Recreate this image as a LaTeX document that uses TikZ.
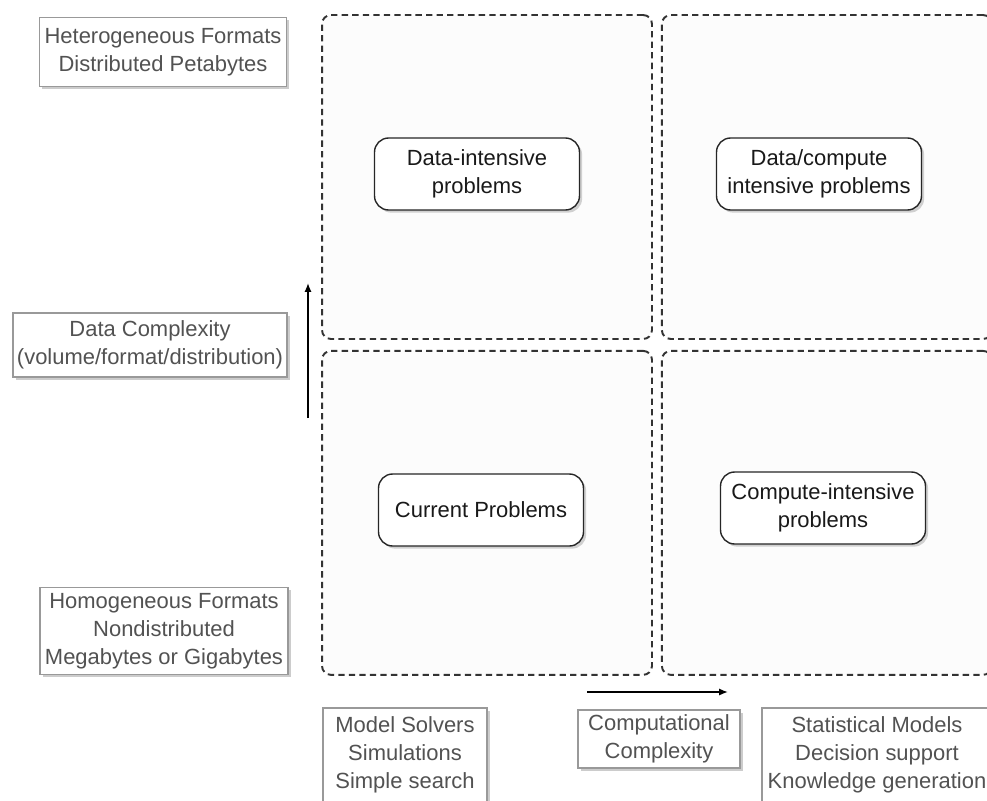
\documentclass[tikz,border=0pt]{standalone}
\usepackage{fontspec}
\setmainfont{Liberation Sans}
\usetikzlibrary{positioning}
\usetikzlibrary{shadows}
\usetikzlibrary{arrows.meta}

\begin{document}
\begin{tikzpicture}[x=0.02cm, y=-0.02cm, font=\fontsize{12.5}{16}\selectfont,
    quadro/.style={draw=black!80, line width=1.1pt, dash pattern=on 3.6pt off 2.4pt, rounded corners=5pt, fill=black!1, minimum width=6.6cm, minimum height=6.48cm},
    problema/.style={draw=black!85, line width=0.8pt, rounded corners=8pt, fill=white, align=center, text=black!90, minimum width=4.1cm, minimum height=1.44cm, drop shadow={opacity=0.35, shadow xshift=1.5pt, shadow yshift=-1.5pt}},
    rotulo/.style={draw=black!40, line width=0.7pt, fill=white, align=center, text=black!68, inner sep=1pt, drop shadow={opacity=0.4, shadow xshift=1.5pt, shadow yshift=-1.5pt}}]
    \useasboundingbox (0,0) rectangle (987,801);
    \clip (0,0) rectangle (987,801);

    % Quadrantes
    \node [quadro] (tl) at (487,177) {};
    \node [quadro, right=0.16cm of tl] (tr) {};
    \node [quadro, below=0.2cm of tl] (bl) {};
    \node [quadro, right=0.16cm of bl] (br) {};

    % Problemas
    \node [problema] (dados) at (477,174) {Data-intensive\\problems};
    \node [problema] (dadoscomp) at (819,174) {Data/compute\\intensive problems};
    \node [problema] (atuais) at (481,510) {Current Problems};
    \node [problema] (comp) at (823,508) {Compute-intensive\\problems};

    % Eixo vertical
    \node [rotulo, minimum width=4.94cm, minimum height=1.38cm] (hetero) at (163,52) {Heterogeneous Formats\\Distributed Petabytes};
    \node [rotulo, minimum width=5.48cm, minimum height=1.28cm] (cdados) at (150,345) {Data Complexity\\(volume/format/distribution)};
    \node [rotulo, minimum width=4.96cm, minimum height=1.74cm] (homo) at (164,631) {Homogeneous Formats\\Nondistributed\\Megabytes or Gigabytes};

    % Eixo horizontal
    \node [rotulo, minimum width=3.28cm, minimum height=1.88cm] (solvers) at (405,755) {Model Solvers\\Simulations\\Simple search};
    \node [rotulo, minimum width=3.24cm, minimum height=1.16cm] (ccomp) at (659,739) {Computational\\Complexity};
    \node [rotulo, minimum width=4.6cm, minimum height=1.88cm] (estat) at (877,755) {Statistical Models\\Decision support\\Knowledge generation};

    % Setas
    \coordinate (v_a) at (308,418);
    \coordinate (v_b) at (308,283);
    \coordinate (h_a) at (587,692);
    \coordinate (h_b) at (728,692);
    \draw[-{Latex[length=5pt,width=4pt]}, line width=0.9pt] (v_a) -- (v_b);
    \draw[-{Latex[length=5pt,width=4pt]}, line width=0.9pt] (h_a) -- (h_b);
\end{tikzpicture}
\end{document}
